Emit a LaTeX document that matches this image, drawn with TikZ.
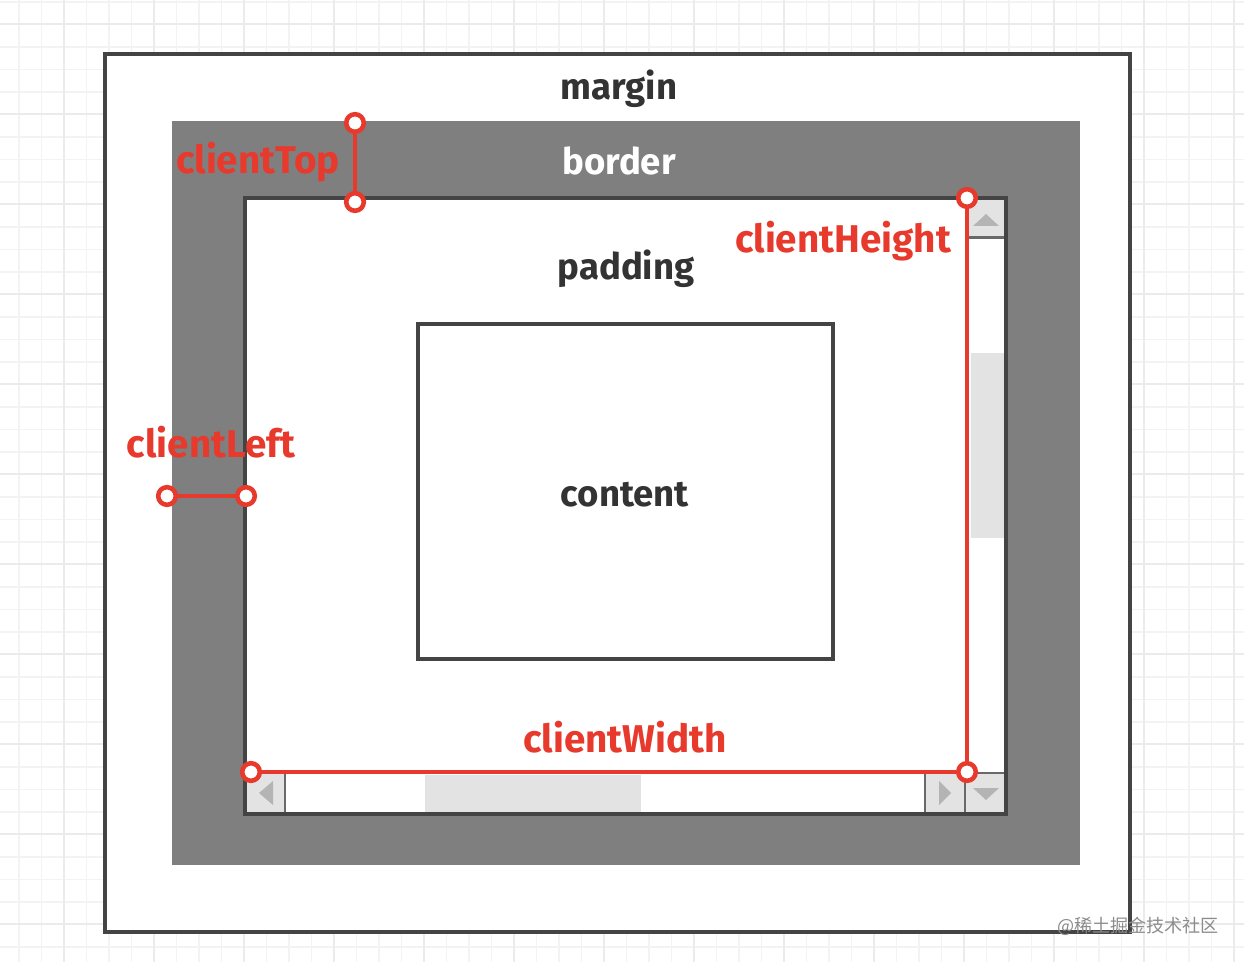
\documentclass[tikz,border=0pt]{standalone}
\usepackage{fontspec}
\setmainfont{Fira Sans}
\newfontfamily\cjk{Noto Sans CJK SC}
\definecolor{gridgray}{HTML}{F3F3F5}
\definecolor{gridmajor}{HTML}{EBEBED}
\definecolor{linedark}{HTML}{444444}
\definecolor{bordergray}{HTML}{7F7F7F}
\definecolor{barfill}{HTML}{E3E3E3}
\definecolor{arrowgray}{HTML}{B4B4B4}
\definecolor{clientred}{HTML}{E8392D}
\tikzset{
  boxlabel/.style={font=\fontsize{20.8}{20.8}\selectfont\bfseries,text=black!80},
  clientlabel/.style={font=\fontsize{22}{22}\selectfont\bfseries,text=clientred},
  handle/.style={circle,draw=clientred,fill=white,line width=2.6pt,inner sep=0pt,minimum size=10pt},
  clientline/.style={draw=clientred,line width=2.5pt},
  outline/.style={draw=linedark,line width=1.9pt},
  barbutton/.style={fill=barfill},
  bartip/.style={fill=arrowgray},
}
\begin{document}
\begin{tikzpicture}[x=0.02cm,y=-0.02cm]
    \useasboundingbox (0,0) rectangle (1244,962);
    \fill[white] (0,0) rectangle (1244,962);
    % background grid
    \foreach \i in {0,...,55} {
        \draw[gridgray,line width=1pt] (-3.5+22.5*\i,0) -- (-3.5+22.5*\i,962);
    }
    \foreach \i in {0,...,43} {
        \draw[gridgray,line width=1pt] (0,2+22.5*\i) -- (1244,2+22.5*\i);
    }
    \foreach \i in {0,...,13} {
        \draw[gridmajor,line width=1.2pt] (64+90*\i,0) -- (64+90*\i,962);
    }
    \foreach \i in {0,...,10} {
        \draw[gridmajor,line width=1.2pt] (0,24+90*\i) -- (1244,24+90*\i);
    }
    % boxes
    \draw[outline,fill=white] (105,54) rectangle (1130,932);
    \fill[bordergray] (172,121) rectangle (1080,865);
    \draw[outline,fill=white] (245,198) rectangle (1006,814);
    \draw[outline,fill=white] (418,324) rectangle (833,659);
    % scrollbars
    \fill[barfill] (971,353) rectangle (1004,538);
    \fill[barfill] (425,775) rectangle (641,812);
    \fill[barbutton] (967,200) rectangle (1004,237);
    \draw[linedark!80,line width=1.2pt] (967,237.5) -- (1004,237.5);
    \fill[bartip] (986,214) -- (973,226) -- (999,226) -- cycle;
    \fill[barbutton] (247,774) rectangle (284,812);
    \draw[linedark!80,line width=1.2pt] (285,774) -- (285,812);
    \fill[bartip] (259,793) -- (273,781) -- (273,805) -- cycle;
    \fill[barbutton] (926,774) rectangle (964,812);
    \draw[linedark!80,line width=1.2pt] (925,774) -- (925,812);
    \draw[linedark!80,line width=1.2pt] (965,774) -- (965,812);
    \fill[bartip] (951,793) -- (939,781) -- (939,805) -- cycle;
    \fill[barbutton] (966,774) rectangle (1004,812);
    \draw[linedark!80,line width=1.2pt] (966,773) -- (1004,773);
    \fill[bartip] (986,800) -- (973,788) -- (999,788) -- cycle;
    % box labels
    \node[boxlabel] (margin) at (619,89) {margin};
    \node[boxlabel,text=white] (border) at (619,161) {border};
    \node[boxlabel] (padding) at (626,269) {padding};
    \node[boxlabel] (content) at (625,495) {content};
    % client sizes
    \node[handle] (topA) at (355,123) {};
    \node[handle] (topB) at (355,202) {};
    \node[handle] (leftA) at (167,496) {};
    \node[handle] (leftB) at (246,496) {};
    \node[handle] (heightA) at (967,198) {};
    \node[handle] (corner) at (967,772) {};
    \node[handle] (widthA) at (251,772) {};
    \draw[clientline] (topA) -- (topB);
    \draw[clientline] (leftA) -- (leftB);
    \draw[clientline] (heightA) -- (corner);
    \draw[clientline] (widthA) -- (corner);
    \node[clientlabel] (clientTop) at (258,162) {clientTop};
    \node[clientlabel] (clientLeft) at (211,442) {clientLeft};
    \node[clientlabel] (clientHeight) at (843,241) {clientHeight};
    \node[clientlabel] (clientWidth) at (625,737) {clientWidth};
    % watermark
    \node[font=\cjk\fontsize{10.3}{10.3}\selectfont,text=black!45] (mark) at (1138,926) {@稀土掘金技术社区};
\end{tikzpicture}
\end{document}
